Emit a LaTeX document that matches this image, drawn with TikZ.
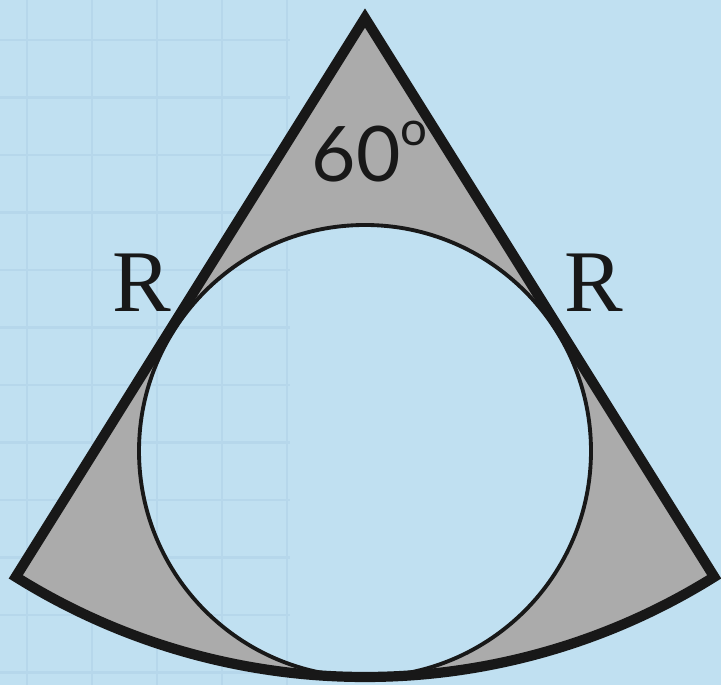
\documentclass[tikz,border=0pt]{standalone}
\usepackage{fontspec}
\setmainfont{Liberation Serif}
\newfontfamily\anglefont{Lato}
\definecolor{paper}{RGB}{192,224,241}
\definecolor{gridblue}{RGB}{182,215,235}
\definecolor{shadegray}{RGB}{171,171,171}
\definecolor{ink}{RGB}{24,24,24}

\begin{document}
\begin{tikzpicture}[x=0.01cm, y=0.01cm,
    gridline/.style={draw=gridblue, line width=0.6pt},
    sectorline/.style={draw=ink, line width=2.9pt, line join=miter},
    incircle/.style={draw=ink, line width=1.1pt},
    rlabel/.style={anchor=base west, inner sep=0pt, text=ink, font=\fontsize{25}{25}\selectfont}]
  \fill[paper] (0,0) rectangle (721,685);
  \useasboundingbox (0,0) rectangle (721,685);
  % faint squared paper
  \foreach \x in {27,92,...,287} \draw[gridline] (\x,0) -- (\x,685);
  \foreach \y in {12.5,70,...,645} \draw[gridline] (0,\y) -- (290,\y);
  % sector of radius R and its inscribed circle
  \coordinate (apex) at (365,667);
  \coordinate (o) at (365,234);
  \path (apex) ++(238:659) coordinate (lc);
  \path (apex) ++(302:659) coordinate (rc);
  \fill[shadegray, even odd rule] (apex) -- (lc) arc[start angle=238, end angle=302, radius=659] -- cycle
    (o) circle[radius=226];
  \draw[incircle] (o) circle[radius=226];
  \draw[sectorline] (apex) -- (lc) arc[start angle=238, end angle=302, radius=659] -- cycle;
  % labels
  \node[anchor=base west, inner sep=0pt, text=ink, font=\anglefont\fontsize{21.8}{22}\selectfont] (ang) at (311,503)
    {60\raisebox{10.5pt}{\fontsize{13.5}{14}\selectfont o}};
  \node[rlabel] (rleft) at (112,373) {R};
  \node[rlabel] (rright) at (564,373) {R};
\end{tikzpicture}
\end{document}
